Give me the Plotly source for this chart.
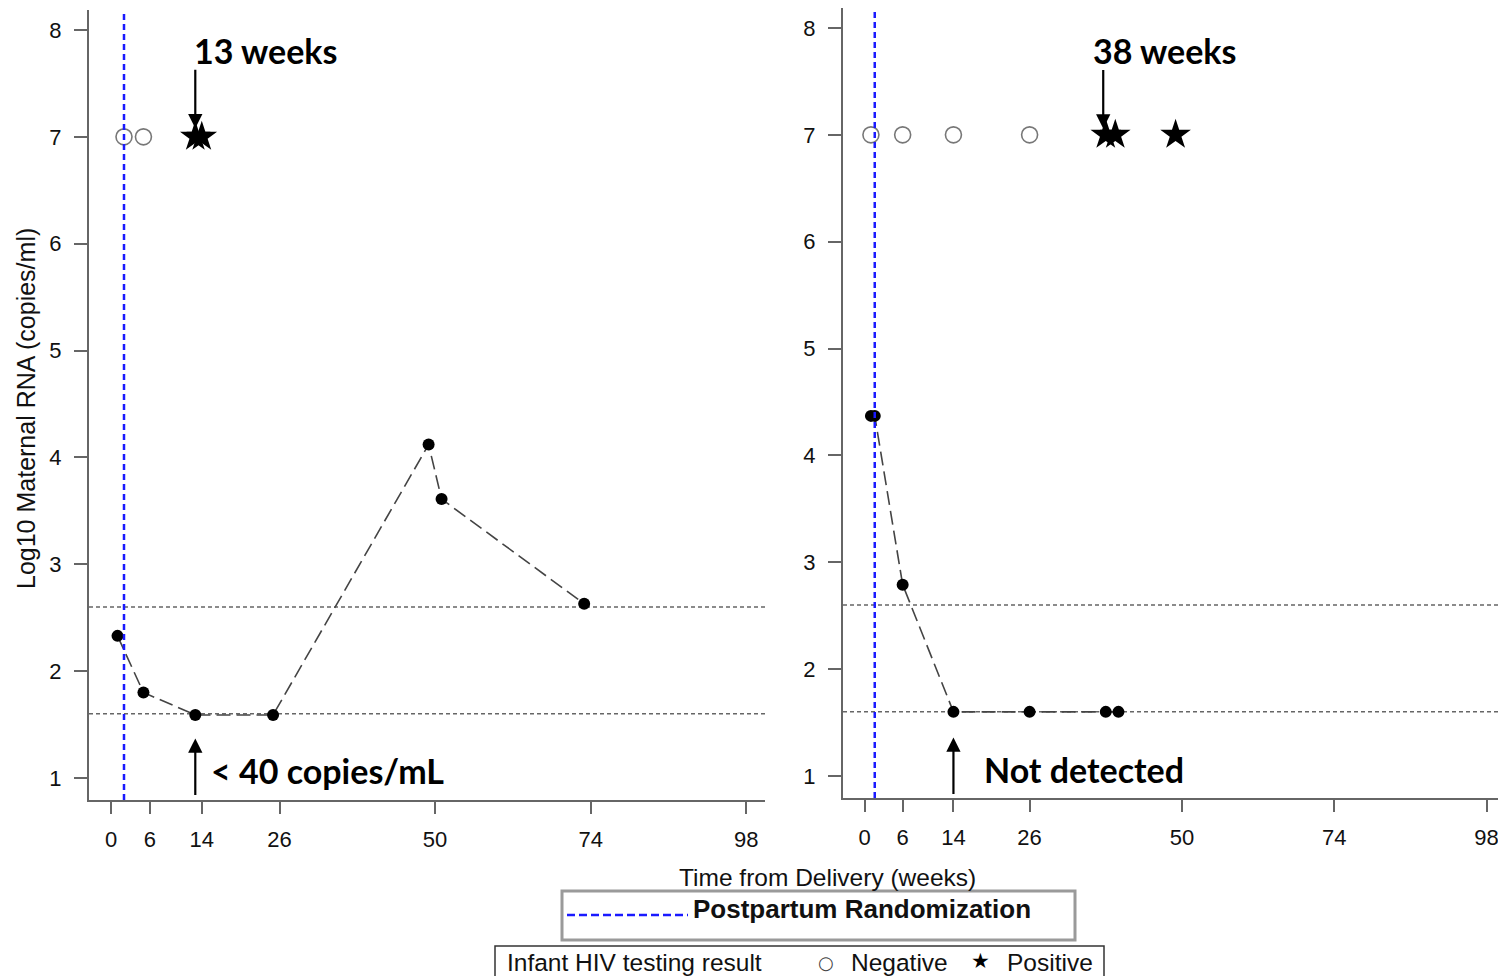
import plotly.graph_objects as go

# ---------------- data ----------------
x_tick_vals = [0, 6, 14, 26, 50, 74, 98]
y_tick_vals = [1, 2, 3, 4, 5, 6, 7, 8]

left_weeks = [1, 5, 13, 25, 49, 51, 73]
left_rna = [2.33, 1.80, 1.59, 1.59, 4.12, 3.61, 2.63]
left_neg_weeks = [2, 5]
left_pos_weeks = [13, 14]

right_weeks = [1, 1.6, 6, 14, 26, 38, 40]
right_rna = [4.37, 4.37, 2.79, 1.60, 1.60, 1.60, 1.60]
right_neg_weeks = [1, 6, 14, 26]
right_pos_weeks = [38, 39.5, 49]

infant_test_level = 7
randomization_week = [2, 1.6]
ref_levels = [1.6, 2.6]

# page body has an 8px margin; the figure is placed at (8, 8)
OFF = 8
W, H = 1498, 968


def px(x):
    return (x - OFF) / W


def py(y):
    return 1 - (y - OFF) / H


AX_COL = "#666666"
SANS = "Liberation Sans, Arial, sans-serif"
TICK_FONT = dict(family=SANS, size=22, color="#111")
BOLD = "Lato, Carlito, Calibri, sans-serif"

fig = go.Figure()

panels = [
    ("x", "y", left_weeks, left_rna, left_neg_weeks, left_pos_weeks),
    ("x2", "y2", right_weeks, right_rna, right_neg_weeks, right_pos_weeks),
]
for xa, ya, wk, rna, neg, pos in panels:
    fig.add_trace(go.Scatter(
        x=wk, y=rna, xaxis=xa, yaxis=ya, mode="lines+markers",
        line=dict(color="#444444", width=1.6, dash="14px,6px"),
        marker=dict(color="black", size=12), showlegend=False,
        cliponaxis=False))
    fig.add_trace(go.Scatter(
        x=neg, y=[infant_test_level] * len(neg), xaxis=xa, yaxis=ya, mode="markers",
        marker=dict(symbol="circle-open", size=16, color="#777777",
                    line=dict(color="#777777", width=1.6)),
        showlegend=False))
    fig.add_trace(go.Scatter(
        x=pos, y=[infant_test_level] * len(pos), xaxis=xa, yaxis=ya, mode="markers",
        marker=dict(symbol="star", size=23, color="black"),
        showlegend=False))

axis_common = dict(
    showline=True, linecolor=AX_COL, linewidth=2, ticks="outside",
    tickcolor=AX_COL, tickwidth=1.5, showgrid=False, zeroline=False,
    tickfont=TICK_FONT,
)

fig.update_layout(
    width=W, height=H, margin=dict(l=0, r=0, t=0, b=0),
    paper_bgcolor="white", plot_bgcolor="white", showlegend=False,
    xaxis=dict(domain=[px(89), px(765)], range=[-3.4, 100.9], tickvals=x_tick_vals,
               ticklen=12, anchor="y", ticklabelstandoff=7, **axis_common),
    yaxis=dict(domain=[py(800), py(10)], range=[0.794, 8.187], tickvals=y_tick_vals,
               ticklen=13, anchor="x", ticklabelstandoff=8, **axis_common),
    xaxis2=dict(domain=[px(843), px(1505)], range=[-3.4, 100.9], tickvals=x_tick_vals,
                ticklen=12, anchor="y2", ticklabelstandoff=7, **axis_common),
    yaxis2=dict(domain=[py(798), py(8)], range=[0.794, 8.187], tickvals=y_tick_vals,
                ticklen=13, anchor="x2", ticklabelstandoff=8, **axis_common),
)

shapes = []
for i, (xa, ya) in enumerate([("x", "y"), ("x2", "y2")]):
    for lv in ref_levels:
        shapes.append(dict(type="line", xref=f"{xa} domain", yref=ya, x0=0, x1=1,
                           y0=lv, y1=lv, line=dict(color="#666666", width=1.5, dash="4px,3px"),
                           layer="below"))
    shapes.append(dict(type="line", xref=xa, yref=f"{ya} domain",
                       x0=randomization_week[i], x1=randomization_week[i], y0=0, y1=1,
                       line=dict(color="#1a1aff", width=2.5, dash="6px,4px")))

# legend boxes
shapes.append(dict(type="rect", xref="paper", yref="paper", x0=px(562), x1=px(1075),
                   y0=py(940), y1=py(891), line=dict(color="#9a9a9a", width=3)))
shapes.append(dict(type="line", xref="paper", yref="paper", x0=px(567), x1=px(688),
                   y0=py(915), y1=py(915), line=dict(color="#1a1aff", width=2.5, dash="8px,4px")))
shapes.append(dict(type="rect", xref="paper", yref="paper", x0=px(495), x1=px(1104),
                   y0=py(990), y1=py(946), line=dict(color="#333333", width=1.5)))
fig.update_layout(shapes=shapes)

ann = []
bold_font = dict(family=BOLD, size=34, color="black")
arrow_common = dict(showarrow=True, text="", arrowhead=2, arrowsize=1.3,
                    arrowwidth=2.2, arrowcolor="black", axref="pixel", ayref="pixel")
# left panel
ann.append(dict(x=12.45, y=7.81, xref="x", yref="y", text="<b>13 weeks</b>",
                showarrow=False, xanchor="left", yanchor="middle", font=bold_font))
ann.append(dict(x=13, y=7.08, xref="x", yref="y", ax=0, ay=-60, **arrow_common))
ann.append(dict(x=15.1, y=1.07, xref="x", yref="y", text="<b>< 40 copies/mL</b>",
                showarrow=False, xanchor="left", yanchor="middle", font=bold_font))
ann.append(dict(x=13, y=1.37, xref="x", yref="y", ax=0, ay=58, **arrow_common))
# right panel
ann.append(dict(x=35.6, y=7.79, xref="x2", yref="y2", text="<b>38 weeks</b>",
                showarrow=False, xanchor="left", yanchor="middle", font=bold_font))
ann.append(dict(x=37.6, y=7.06, xref="x2", yref="y2", ax=0, ay=-60, **arrow_common))
ann.append(dict(x=18.55, y=1.06, xref="x2", yref="y2", text="<b>Not detected</b>",
                showarrow=False, xanchor="left", yanchor="middle", font=bold_font))
ann.append(dict(x=14, y=1.36, xref="x2", yref="y2", ax=0, ay=58, **arrow_common))

# axis titles
ann.append(dict(x=px(26), y=py(409), xref="paper", yref="paper",
                text="Log10 Maternal RNA (copies/ml)", textangle=-90, showarrow=False,
                xanchor="center", yanchor="middle",
                font=dict(family=SANS, size=25, color="#111")))
ann.append(dict(x=px(827), y=py(877), xref="paper", yref="paper",
                text="Time from Delivery (weeks)", showarrow=False,
                xanchor="center", yanchor="middle",
                font=dict(family=SANS, size=24.5, color="#111")))
# legend texts
ann.append(dict(x=px(691), y=py(909), xref="paper", yref="paper",
                text="<b>Postpartum Randomization</b>", showarrow=False, xanchor="left",
                yanchor="middle", font=dict(family=SANS, size=26, color="#111")))
leg_font = dict(family=SANS, size=24.5, color="#111")
ann.append(dict(x=px(505), y=py(962), xref="paper", yref="paper",
                text="Infant HIV testing result", showarrow=False, xanchor="left",
                yanchor="middle", font=leg_font))
ann.append(dict(x=px(826), y=py(962), xref="paper", yref="paper", text="○",
                showarrow=False, xanchor="center", yanchor="middle",
                font=dict(family="DejaVu Sans", size=18, color="#444")))
ann.append(dict(x=px(849), y=py(962), xref="paper", yref="paper", text="Negative",
                showarrow=False, xanchor="left", yanchor="middle", font=leg_font))
ann.append(dict(x=px(980), y=py(961), xref="paper", yref="paper", text="★",
                showarrow=False, xanchor="center", yanchor="middle",
                font=dict(family="DejaVu Sans", size=21, color="black")))
ann.append(dict(x=px(1005), y=py(962), xref="paper", yref="paper", text="Positive",
                showarrow=False, xanchor="left", yanchor="middle", font=leg_font))
fig.update_layout(annotations=ann)

fig.write_html("out.html")
